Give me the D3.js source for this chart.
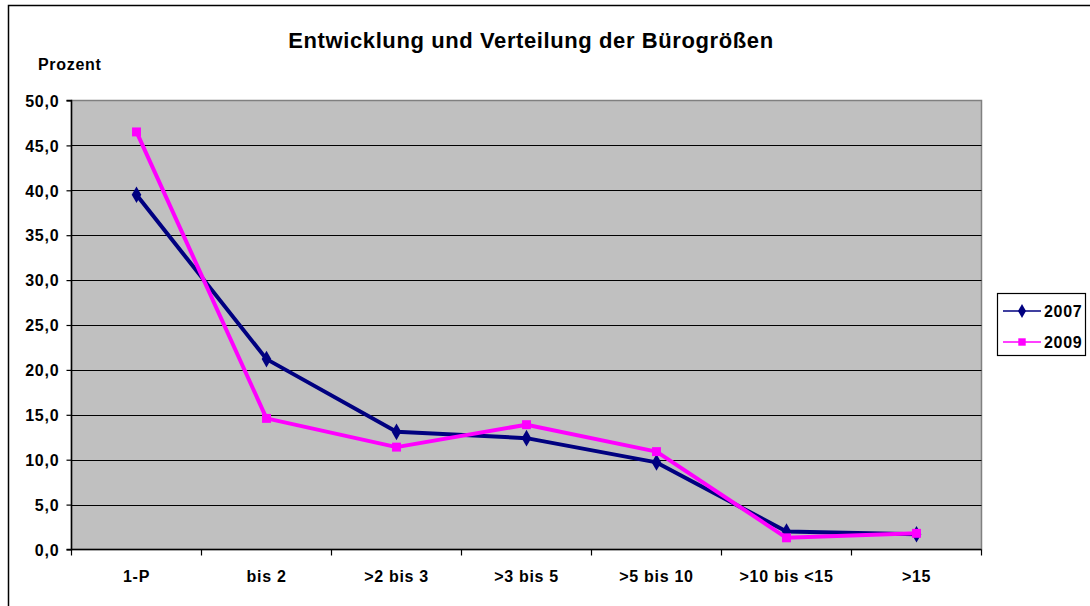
<!DOCTYPE html>
<html>
<head>
<meta charset="utf-8">
<script src="https://cdn.jsdelivr.net/npm/d3@7"></script>
<style>
  body { margin: 0; background: #fff; }
  text { font-family: "Liberation Sans", Arial, sans-serif; font-weight: bold; fill: #000; }
</style>
</head>
<body>
<svg id="chart" width="1090" height="606"></svg>
<script>
// data
const categories = ["1-P", "bis 2", ">2 bis 3", ">3 bis 5", ">5 bis 10", ">10 bis <15", ">15"];
const series2007 = [39.5, 21.2, 13.1, 12.4, 9.7, 2.0, 1.7];
const series2009 = [46.5, 14.6, 11.4, 13.9, 10.9, 1.3, 1.8];
const seriesNames = ["2007", "2009"];
const yTicks = [0, 5, 10, 15, 20, 25, 30, 35, 40, 45, 50];

const width = 1090, height = 606;
const plot = {left: 71.5, right: 981.5, top: 100.5, bottom: 549.5};

let svg = d3.select("#chart");

svg.append("rect")
    .attr("x", 0).attr("y", 0)
    .attr("width", width).attr("height", height)
    .style("fill", "#fff");

// outer chart frame (runs off the right and bottom)
svg.append("rect")
    .attr("x", 8.5).attr("y", 5.5)
    .attr("width", 1200).attr("height", 800)
    .style("fill", "none").style("stroke", "#000").style("stroke-width", 1.5);

let x = d3.scaleBand()
    .domain(categories)
    .range([plot.left, plot.right]);

let y = d3.scaleLinear()
    .domain([0, 50])
    .range([plot.bottom, plot.top]);

// plot area
svg.append("rect")
    .attr("x", plot.left).attr("y", plot.top)
    .attr("width", plot.right - plot.left)
    .attr("height", plot.bottom - plot.top)
    .style("fill", "#c0c0c0")
    .style("stroke", "#808080").style("stroke-width", 1.5);

// gridlines
svg.selectAll("line.grid")
    .data(yTicks.filter(d => d > 0 && d < 50))
    .enter()
    .append("line")
    .attr("class", "grid")
    .attr("x1", plot.left).attr("x2", plot.right)
    .attr("y1", d => Math.round(y(d)) + 0.5)
    .attr("y2", d => Math.round(y(d)) + 0.5)
    .style("stroke", "#000").style("stroke-width", 1);

let fmt = d => d3.format(".1f")(d).replace(".", ",");

let yAxis = d3.axisLeft(y)
    .tickValues(yTicks)
    .tickSize(5)
    .tickFormat(fmt);

let gY = svg.append("g")
    .attr("transform", "translate(" + plot.left + ",0)")
    .call(yAxis);
gY.select(".domain").attr("d", "M-5," + y(50) + "H0V" + y(0) + "H-5").style("stroke", "#000").style("stroke-width", 1.5);
gY.selectAll(".tick line").style("stroke", "#000").style("stroke-width", 1.2);
gY.selectAll(".tick text")
    .style("font-size", "16px")
    .style("letter-spacing", "0.8px")
    .style("font-family", "'Liberation Sans', Arial, sans-serif")
    .style("font-weight", "bold")
    .attr("x", -12)
    .attr("dy", "0.36em");

// bottom axis: ticks at the category boundaries
let bounds = categories.map(c => x(c)).concat([plot.right]);
svg.append("line")
    .attr("x1", plot.left).attr("x2", plot.right)
    .attr("y1", plot.bottom).attr("y2", plot.bottom)
    .style("stroke", "#000").style("stroke-width", 1.5);
svg.selectAll("line.xtick")
    .data(bounds)
    .enter()
    .append("line")
    .attr("class", "xtick")
    .attr("x1", d => d).attr("x2", d => d)
    .attr("y1", plot.bottom).attr("y2", plot.bottom + 6)
    .style("stroke", "#000").style("stroke-width", 1.2);

svg.selectAll("text.xlab")
    .data(categories)
    .enter()
    .append("text")
    .attr("class", "xlab")
    .attr("x", d => x(d) + x.bandwidth() / 2)
    .attr("y", 582)
    .attr("text-anchor", "middle")
    .style("font-size", "16px")
    .style("letter-spacing", "0.7px")
    .text(d => d);

// titles
svg.append("text")
    .attr("x", 531).attr("y", 48)
    .attr("text-anchor", "middle")
    .style("font-size", "22px")
    .style("letter-spacing", "0.6px")
    .text("Entwicklung und Verteilung der Bürogrößen");

svg.append("text")
    .attr("x", 38).attr("y", 70)
    .style("font-size", "16px")
    .style("letter-spacing", "0.7px")
    .text("Prozent");

// series
let cx = (d, i) => x(categories[i]) + x.bandwidth() / 2;
let line = d3.line()
    .x(cx)
    .y(d => y(d));

let styles = [
    {name: seriesNames[0], values: series2007, color: "#000080", symbol: d3.symbolDiamond, size: 80},
    {name: seriesNames[1], values: series2009, color: "#ff00ff", symbol: d3.symbolSquare, size: 80}
];

styles.forEach(function(s) {
    svg.append("path")
        .datum(s.values)
        .attr("d", line)
        .style("fill", "none")
        .style("stroke", s.color)
        .style("stroke-width", 4)
        .style("stroke-linejoin", "round");
    svg.selectAll(null)
        .data(s.values)
        .enter()
        .append("path")
        .attr("transform", (d, i) => "translate(" + cx(d, i) + "," + y(d) + ")")
        .attr("d", d3.symbol().type(s.symbol).size(s.size))
        .style("fill", s.color);
});

// legend
let legend = svg.append("g");
legend.append("rect")
    .attr("x", 997.5).attr("y", 293.5)
    .attr("width", 88).attr("height", 62)
    .style("fill", "#fff").style("stroke", "#000").style("stroke-width", 1.2);

styles.forEach(function(s, i) {
    let ly = 311 + i * 31;
    legend.append("line")
        .attr("x1", 1003).attr("x2", 1041)
        .attr("y1", ly).attr("y2", ly)
        .style("stroke", s.color).style("stroke-width", 1.5);
    legend.append("path")
        .attr("transform", "translate(1022," + ly + ")")
        .attr("d", d3.symbol().type(s.symbol).size(55))
        .style("fill", s.color);
    legend.append("text")
        .attr("x", 1044).attr("y", ly + 6)
        .style("font-size", "16px")
        .style("letter-spacing", "0.7px")
        .text(s.name);
});
</script>
</body>
</html>
